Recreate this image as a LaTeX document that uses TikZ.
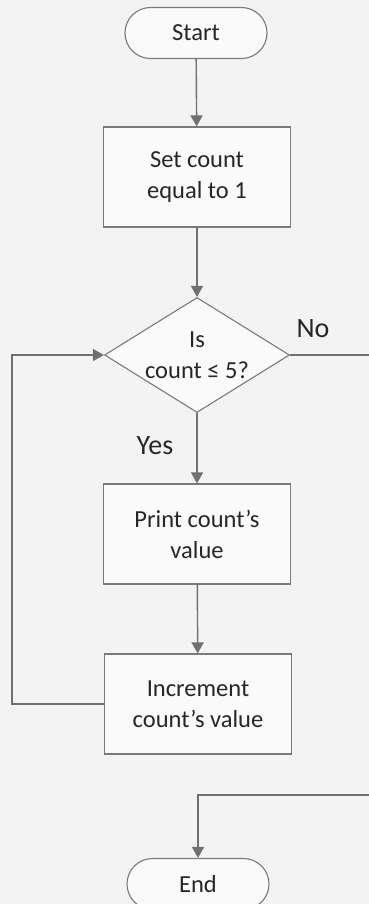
\documentclass[tikz,border=0pt]{standalone}
\usepackage{fontspec}
\setmainfont{Carlito}
\usetikzlibrary{arrows.meta,shapes.geometric,shapes.misc}
\definecolor{pagebg}{HTML}{F3F3F3}
\definecolor{linegray}{HTML}{707070}
\definecolor{boxgray}{HTML}{7A7A7A}
\definecolor{inkgray}{HTML}{262626}
\tikzset{
  every node/.style={text=inkgray},
  body/.style={font=\fontsize{24.5}{31}\selectfont, align=center, inner sep=0pt},
  terminal/.style={body, draw=boxgray, line width=1.1pt, rounded rectangle,
    minimum width=142pt, minimum height=51pt, fill=white!60!pagebg},
  process/.style={body, draw=boxgray, line width=1.1pt, rectangle,
    minimum width=187pt, minimum height=100pt, fill=white!60!pagebg},
  decision/.style={body, draw=boxgray, line width=1.1pt, diamond,
    shape aspect=1.6, minimum width=185pt, minimum height=115pt,
    fill=white!60!pagebg},
  branch/.style={font=\fontsize{28}{30}\selectfont, inner sep=0pt},
  flow/.style={draw=linegray, line width=1.4pt,
    -{Triangle[width=12pt,length=11pt]}},
  plain/.style={draw=linegray, line width=1.4pt}
}
\begin{document}
\begin{tikzpicture}[x=1pt, y=-1pt]
  % page area and clipping
  \fill[pagebg] (0,0) rectangle (369,904);
  \useasboundingbox (0,0) rectangle (369,904);
  \clip (0,0) rectangle (369,904);

  % flowchart blocks
  \node[terminal] (start) at (196,33) {Start};
  \node[process]  (set)   at (197,177) {Set count\\equal to 1};
  \node[decision] (test)  at (197,355) {Is\\count ≤ 5?};
  \node[process]  (print) at (197,534) {Print count’s\\value};
  \node[process]  (incr)  at (198,704) {Increment\\count’s value};
  \node[terminal] (stop)  at (198,884) {End};

  % branch labels
  \node[branch] (no)  at (313,329) {No};
  \node[branch] (yes) at (155,446) {Yes};

  % helper points for the loop and exit routes
  \coordinate (loopcorner) at (12,704);
  \coordinate (exitright)  at (385,355);
  \coordinate (exitdown)   at (385,795);

  % connectors
  \draw[flow] (start) -- (set);
  \draw[flow] (set) -- (test);
  \draw[flow] (test) -- (print);
  \draw[flow] (print) -- (incr);
  \draw[flow] (incr.west) -- (loopcorner) |- (test.west);
  \draw[flow] (test.east) -- (exitright) -- (exitdown) -| (stop.north);
\end{tikzpicture}
\end{document}
